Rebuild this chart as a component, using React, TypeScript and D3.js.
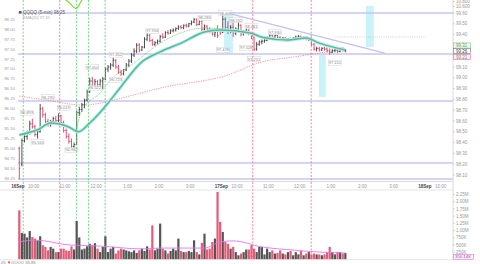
import React from 'react';
import * as d3 from 'd3';

// ---------- DATA ----------
// 5-minute bars: 16Sep 9:30-16:00 (78 bars), then 17Sep from 9:30 (48 bars)
const dayBarCounts = [78, 48];
const opens = [
  95.00, 94.60, 95.20, 95.30, 95.40, 95.62, 95.55, 95.35, 95.42, 96.00,
  95.85, 95.68, 95.60, 95.68, 95.75, 95.70, 95.82, 95.65, 95.45, 95.30,
  95.18, 95.05, 95.10, 95.90, 95.98, 96.10, 96.22, 96.42, 96.70, 96.58,
  96.68, 96.60, 96.70, 96.75, 97.00, 97.05, 97.10, 97.22, 97.05, 96.92,
  96.88, 96.98, 97.10, 97.20, 97.35, 97.45, 97.60, 97.48, 97.55, 97.75,
  97.85, 97.72, 97.62, 97.66, 97.70, 97.82, 97.80, 97.92, 97.90, 97.96,
  97.98, 98.02, 98.06, 98.04, 98.10, 98.08, 98.14, 98.18, 98.25, 98.12,
  98.20, 98.00, 98.08, 98.00, 97.94, 97.88, 98.00, 97.95,
  97.92, 98.25, 98.05, 97.95, 98.05, 97.90, 98.00, 98.10, 97.88, 97.95,
  97.98, 97.90, 97.78, 97.50, 97.62, 97.68, 97.70, 97.72, 97.80, 97.85,
  97.78, 97.84, 97.80, 97.75, 97.78, 97.72, 97.76, 97.74, 97.78, 97.80,
  97.82, 97.76, 97.80, 97.74, 97.78, 97.62, 97.50, 97.52, 97.48, 97.52,
  97.50, 97.46, 97.42, 97.46, 97.48, 97.44, 97.50, 97.46,
];
const highs = [
  95.05, 95.25, 95.38, 95.45, 95.70, 95.75, 95.60, 95.45, 96.12, 96.05,
  95.90, 95.75, 95.72, 95.80, 95.82, 95.88, 95.85, 95.70, 95.50, 95.38,
  95.25, 95.15, 95.95, 96.05, 96.15, 96.25, 96.48, 96.78, 96.80, 96.75,
  96.72, 96.75, 96.80, 97.05, 97.10, 97.15, 97.28, 97.25, 97.10, 96.98,
  97.00, 97.15, 97.25, 97.40, 97.52, 97.65, 97.65, 97.58, 97.80, 97.92,
  97.88, 97.76, 97.70, 97.74, 97.86, 97.90, 97.95, 97.98, 98.00, 98.02,
  98.05, 98.10, 98.10, 98.12, 98.14, 98.16, 98.22, 98.28, 98.27, 98.24,
  98.30, 98.12, 98.10, 98.05, 97.98, 97.96, 98.10, 98.02,
  98.40, 98.30, 98.20, 98.10, 98.25, 98.05, 98.18, 98.12, 97.98, 98.02,
  98.00, 97.92, 97.82, 97.68, 97.72, 97.74, 97.75, 97.82, 97.88, 97.86,
  97.86, 97.86, 97.82, 97.80, 97.80, 97.78, 97.79, 97.80, 97.84, 97.86,
  97.84, 97.82, 97.82, 97.80, 97.79, 97.65, 97.56, 97.56, 97.55, 97.56,
  97.54, 97.52, 97.50, 97.52, 97.50, 97.54, 97.55, 97.50,
];
const lows = [
  94.22, 94.55, 95.15, 95.22, 95.35, 95.50, 95.30, 95.25, 95.40, 95.78,
  95.62, 95.55, 95.55, 95.62, 95.65, 95.66, 95.60, 95.40, 95.25, 95.12,
  95.00, 94.92, 95.08, 95.82, 95.92, 96.02, 96.18, 96.40, 96.50, 96.52,
  96.55, 96.55, 96.50, 96.72, 96.92, 96.98, 97.05, 97.00, 96.88, 96.82,
  96.84, 96.95, 97.05, 97.15, 97.30, 97.40, 97.42, 97.45, 97.52, 97.70,
  97.68, 97.58, 97.58, 97.62, 97.66, 97.76, 97.78, 97.86, 97.88, 97.92,
  97.94, 97.98, 98.00, 98.00, 98.04, 98.05, 98.10, 98.15, 98.08, 98.10,
  97.95, 97.96, 97.96, 97.90, 97.84, 97.80, 97.78, 97.86,
  97.90, 97.98, 97.88, 97.90, 97.80, 97.85, 97.95, 97.82, 97.84, 97.90,
  97.85, 97.75, 97.45, 97.46, 97.58, 97.62, 97.66, 97.70, 97.76, 97.76,
  97.74, 97.76, 97.72, 97.70, 97.68, 97.68, 97.70, 97.72, 97.74, 97.76,
  97.74, 97.74, 97.72, 97.70, 97.58, 97.46, 97.44, 97.44, 97.45, 97.46,
  97.42, 97.36, 97.40, 97.42, 97.40, 97.42, 97.44, 97.42,
];
const closes = [
  94.50, 95.20, 95.30, 95.40, 95.62, 95.55, 95.35, 95.42, 96.00, 95.85,
  95.68, 95.60, 95.68, 95.75, 95.70, 95.82, 95.65, 95.45, 95.30, 95.18,
  95.05, 95.10, 95.90, 95.98, 96.10, 96.22, 96.42, 96.70, 96.58, 96.68,
  96.60, 96.70, 96.75, 97.00, 97.05, 97.10, 97.22, 97.05, 96.92, 96.88,
  96.98, 97.10, 97.20, 97.35, 97.45, 97.60, 97.48, 97.55, 97.75, 97.85,
  97.72, 97.62, 97.66, 97.70, 97.82, 97.80, 97.92, 97.90, 97.96, 97.98,
  98.02, 98.06, 98.04, 98.10, 98.08, 98.14, 98.18, 98.25, 98.12, 98.20,
  98.00, 98.08, 98.00, 97.94, 97.88, 97.92, 97.84, 97.90,
  98.25, 98.05, 97.95, 98.05, 97.90, 98.00, 98.10, 97.88, 97.95, 97.98,
  97.90, 97.78, 97.50, 97.62, 97.68, 97.70, 97.72, 97.80, 97.85, 97.78,
  97.84, 97.80, 97.75, 97.78, 97.72, 97.76, 97.74, 97.78, 97.80, 97.82,
  97.76, 97.80, 97.74, 97.78, 97.62, 97.50, 97.52, 97.48, 97.52, 97.50,
  97.46, 97.42, 97.46, 97.48, 97.44, 97.50, 97.46, 97.47,
];
// volume in millions
const volumes = [
  1.70, 0.91, 0.89, 0.76, 0.98, 0.77, 0.72, 0.66, 0.80, 0.49,
  0.43, 0.31, 0.43, 0.37, 0.25, 0.25, 0.37, 0.37, 0.31, 0.29,
  0.45, 0.34, 1.33, 0.76, 0.34, 0.37, 0.45, 0.54, 0.49, 0.56,
  0.37, 0.25, 0.43, 0.80, 0.25, 0.37, 0.43, 0.20, 0.31, 0.37,
  0.34, 0.31, 0.28, 0.25, 0.31, 0.22, 0.31, 0.37, 0.29, 0.45,
  0.34, 1.18, 0.31, 0.37, 1.24, 0.37, 0.31, 0.20, 0.29, 0.37,
  0.31, 0.72, 0.29, 0.25, 0.25, 0.29, 0.25, 0.66, 0.25, 0.17,
  0.57, 0.89, 0.34, 0.37, 0.60, 0.72, 2.34, 1.30,
  0.95, 0.60, 0.54, 0.37, 0.43, 0.25, 0.14, 0.20, 0.25, 0.34,
  0.34, 0.49, 0.37, 0.25, 0.43, 0.43, 0.17, 0.37, 0.25, 0.31,
  0.20, 0.22, 0.31, 0.20, 0.17, 0.25, 0.29, 0.14, 0.25, 0.17,
  0.29, 0.14, 0.20, 0.25, 0.17, 0.20, 0.17, 0.17, 0.14, 0.17,
  0.25, 0.43, 0.25, 0.17, 0.25, 0.25, 0.20, 0.22,
];

// moving-average knots (bar index, value)
const maTealBars = [0, 7, 12, 19, 22.6, 27, 34, 38, 47, 54, 62, 71, 77, 89, 93, 103, 110, 115, 125];
const maTealVals = [95.34, 95.47, 95.64, 95.54, 95.42, 95.64, 96.14, 96.47, 97.18, 97.43, 97.65, 97.93, 97.98, 97.90, 97.80, 97.73, 97.78, 97.65, 97.48];
const maFastBars = [22, 24, 31, 35, 44, 54, 71, 78];
const maFastVals = [95.50, 95.97, 96.40, 96.72, 97.15, 97.65, 98.03, 98.00];
const maLongBars = [0, 10, 25, 31, 44, 54, 80, 93, 105, 115, 125];
const maLongVals = [96.32, 96.22, 96.09, 96.14, 96.35, 96.52, 96.85, 97.18, 97.30, 97.40, 97.50];
const oscBars = [16.5, 19, 21.8, 23.5, 24.5];
const oscVals = [98.80, 98.68, 98.52, 98.68, 98.80];
const volMaBars = [0, 6, 19, 31, 47, 54, 71, 77, 82, 93, 105, 115, 125];
const volMaVals = [0.60, 0.67, 0.50, 0.46, 0.36, 0.39, 0.39, 0.60, 0.64, 0.43, 0.32, 0.25, 0.22];

// price markers (bar index, price)
const markerBars = [3, 7, 11, 17, 20, 28, 29, 37, 37, 51, 71, 79, 83, 89, 78, 87, 98, 90, 121];
const markerPrices = [95.893, 95.163, 96.295, 96.019, 94.962, 97.050, 96.522, 97.352, 96.723, 97.956,
  98.283, 98.408, 98.232, 98.081, 97.478, 97.528, 97.930, 97.251, 97.151];

// annotations
const levelPrices = [98.408, 97.377, 96.195, 94.635, 94.233];
const eventDays = [0, 0, 0, 0, 0, 1, 1];
const eventTimes = ['9:40', '10:50', '11:22', '11:45', '12:17', '10:30', '12:22'];
const eventKinds = ['buy', 'sell', 'buy', 'buy', 'buy', 'sell', 'sell'];
const zoneDays = [1, 1, 1];
const zoneStart = ['9:35', '12:37', '14:07'];
const zoneEnd = ['9:52', '12:50', '14:22'];
const zoneHi = [98.408, 97.352, 98.585];
const zoneLo = [97.402, 96.295, 97.553];
const trendFrom = { day: 1, time: '9:42', price: 98.408 };
const trendTo = { day: 1, time: '14:43', price: 97.402 };
const dottedFrom = { day: 1, time: '13:08' };
const dottedTo = { day: 2, time: '9:32' };
const dottedPrice = 97.805;

// axes
const priceTicks = [94.25, 94.5, 94.75, 95.0, 95.25, 95.5, 95.75, 96.0, 96.25, 96.5, 96.75, 97.0, 97.25, 97.5, 97.75, 98.0, 98.25];
const rightTicks = [98.1, 98.2, 98.3, 98.4, 98.5, 98.6, 98.7, 98.8, 98.9, 99.0, 99.1, 99.2, 99.3, 99.4, 99.5, 99.6];
const volTicks = [0.25, 0.5, 0.75, 1.0, 1.25, 1.5, 1.75, 2.0, 2.25];
const volTickLabels = ['250K', '500K', '750K', '1.00M', '1.25M', '1.50M', '1.75M', '2.00M', '2.25M'];
const dayLabels = ['16Sep', '17Sep', '18Sep'];
const hourTimes = ['10:00', '11:00', '12:00', '13:00', '14:00', '15:00'];
const hourLabels = ['10:00', '11:00', '12:00', '1:00', '2:00', '3:00'];
const rightBoxValues = ['99.31', '99.26', '99.21'];
const topRightLabels = ['10.800', '10.600'];

const FONT = 'Liberation Sans, Arial, sans-serif';

function minutes(s: string) {
  const [h, m] = s.split(':').map(Number);
  return h * 60 + m - 570;
}
function tAt(day: number, s: string) {
  return day * 390 + minutes(s);
}

export default function App() {
  const x = d3.scaleLinear().domain([0, 1170]).range([18, 18 + 3 * 203.45]);
  const y = d3.scaleLinear().domain([94.25, 98.25]).range([178.3, 19.3]);
  const yR = d3.scaleLinear().domain([98.1, 99.6]).range([175, 13]);
  const yV = d3.scaleLinear().domain([0, 2.25]).range([259.3, 194.5]);

  // bar start times in trading minutes
  const barT: number[] = [];
  dayBarCounts.forEach((n, d) => {
    for (let k = 0; k < n; k++) barT.push(d * 390 + k * 5);
  });
  const bx = (i: number) => x(barT[Math.floor(i)] + 2.5 + (i - Math.floor(i)) * 5);

  const lineP = d3.line<[number, number]>().x((d) => bx(d[0])).y((d) => y(d[1])).curve(d3.curveMonotoneX);
  const lineV = d3.line<[number, number]>().x((d) => bx(d[0])).y((d) => yV(d[1])).curve(d3.curveMonotoneX);
  const zip = (a: number[], b: number[]) => a.map((v, i) => [v, b[i]] as [number, number]);

  const plotL = 18, plotR = 453;
  const up = '#333333', down = '#e2305a';

  return (
    <svg width={480} height={264} style={{ position: 'fixed', left: 0, top: 0, background: '#fff' }} fontFamily={FONT}>
      <defs>
        <clipPath id="pp"><rect x={plotL} y={0} width={plotR - plotL} height={181} /></clipPath>
        <clipPath id="vp"><rect x={plotL} y={190} width={plotR - plotL} height={70} /></clipPath>
      </defs>
      <rect x={0} y={0} width={480} height={264} fill="#fff" />

      {/* price pane */}
      <g clipPath="url(#pp)">
        {zoneStart.map((s, i) => (
          <rect key={'z' + i} x={x(tAt(zoneDays[i], s))} width={x(tAt(zoneDays[i], zoneEnd[i])) - x(tAt(zoneDays[i], s))}
            y={y(zoneHi[i])} height={y(zoneLo[i]) - y(zoneHi[i])} fill="#c9f3f8" />
        ))}
        {levelPrices.map((p, i) => (
          <line key={'l' + i} x1={plotL} x2={plotR} y1={y(p)} y2={y(p)} stroke="#c6c6ef" strokeWidth={1.5} />
        ))}
        <line x1={x(tAt(trendFrom.day, trendFrom.time))} y1={y(trendFrom.price)} x2={x(tAt(trendTo.day, trendTo.time))} y2={y(trendTo.price)}
          stroke="#c2c2f0" strokeWidth={1.3} />
        <line x1={x(tAt(dottedFrom.day, dottedFrom.time))} x2={x(tAt(dottedTo.day, dottedTo.time))} y1={y(dottedPrice)} y2={y(dottedPrice)}
          stroke="#bbb" strokeWidth={0.7} strokeDasharray="1,1.2" />

        <path d={lineP(zip(maLongBars, maLongVals)) || ''} fill="none" stroke="#ec7a8a" strokeWidth={0.8} strokeDasharray="1.2,1.2" />

        {closes.map((c, i) => {
          const col = c >= opens[i] ? up : down;
          const cx = bx(i);
          return (
            <g key={'c' + i} stroke={col} strokeWidth={0.85}>
              <line x1={cx} x2={cx} y1={y(highs[i])} y2={y(lows[i])} />
              <line x1={cx - 1} x2={cx} y1={y(opens[i])} y2={y(opens[i])} />
              <line x1={cx} x2={cx + 1} y1={y(c)} y2={y(c)} />
            </g>
          );
        })}

        <path d={lineP(zip(maTealBars, maTealVals)) || ''} fill="none" stroke="#bdeed6" strokeWidth={3.4} />
        <path d={lineP(zip(maTealBars, maTealVals)) || ''} fill="none" stroke="#52b8b0" strokeWidth={1.5} />
        <path d={lineP(zip(maFastBars, maFastVals)) || ''} fill="none" stroke="#4cc35c" strokeWidth={0.7} strokeDasharray="1,0.8" />
        <path d={lineP(zip(oscBars, oscVals)) || ''} fill="none" stroke="#8cd83c" strokeWidth={1.3} />

        {markerBars.map((b, i) => {
          const cx = bx(b), cy = y(markerPrices[i]);
          return (
            <g key={'m' + i}>
              <rect x={cx - 6.5} y={cy - 2.6} width={13} height={5.2} fill="#fff" fillOpacity={0.9} stroke="#c8c8c8" strokeWidth={0.4} />
              <text x={cx} y={cy + 1.5} fontSize={4} fill="#888" textAnchor="middle">{markerPrices[i].toFixed(3)}</text>
            </g>
          );
        })}
      </g>

      {/* event lines across both panes */}
      {eventTimes.map((s, i) => {
        const ex = x(tAt(eventDays[i], s));
        return (
          <line key={'e' + i} x1={ex} x2={ex} y1={0} y2={259.5} stroke={eventKinds[i] === 'buy' ? '#4fd06a' : '#f06a7c'}
            strokeWidth={0.8} strokeDasharray="2,1.5" />
        );
      })}

      {/* legend */}
      <rect x={19} y={11} width={2.5} height={2.5} fill="#556" />
      <text x={23} y={14.2} fontSize={4.5} fill="#556">QQQQ (5-min) 98.25</text>
      <text x={23} y={18.9} fontSize={4} fill="#aaa">EMA(20) 97.31</text>

      {/* left axis */}
      {priceTicks.map((p) => (
        <text key={'pt' + p} x={15} y={y(p) + 1.5} fontSize={4.3} fill="#999" textAnchor="end">{p.toFixed(2)}</text>
      ))}

      {/* right axis */}
      <line x1={plotR} x2={plotR} y1={0} y2={260} stroke="#d0d0d0" strokeWidth={0.8} />
      {rightTicks.map((p) => (
        <g key={'rt' + p}>
          <line x1={plotR} x2={plotR + 2} y1={yR(p)} y2={yR(p)} stroke="#bbb" strokeWidth={0.5} />
          <text x={plotR + 3} y={yR(p) + 1.6} fontSize={4.5} fill="#999">{p.toFixed(2)}</text>
        </g>
      ))}
      {topRightLabels.map((s, i) => (
        <g key={'tr' + i}>
          <line x1={plotR} x2={plotR + 2} y1={1.5 + i * 5} y2={1.5 + i * 5} stroke="#bbb" strokeWidth={0.5} />
          <text x={plotR + 3} y={3 + i * 5} fontSize={4.5} fill="#999">{s}</text>
        </g>
      ))}
      {rightBoxValues.map((s, i) => {
        const stroke = ['#7ccf6e', '#707070', '#e0708e'][i];
        const fill = ['#eefbe9', '#ffffff', '#fff0f4'][i];
        const cy = [45.5, 51, 57][i];
        return (
          <g key={'rb' + i}>
            <rect x={plotR + 0.5} y={cy - 2.6} width={17} height={5.2} fill={fill} stroke={stroke} strokeWidth={0.6} />
            <text x={plotR + 3} y={cy + 1.6} fontSize={4.5} fill={i === 1 ? '#444' : '#888'}>{s}</text>
          </g>
        );
      })}

      {/* time axis band */}
      <line x1={0} x2={plotR} y1={181.5} y2={181.5} stroke="#d0d0d0" strokeWidth={0.7} />
      <line x1={0} x2={plotR} y1={190} y2={190} stroke="#d8d8d8" strokeWidth={0.7} />
      {dayLabels.map((s, d) => (
        <text key={'d' + d} x={x(d * 390)} y={187.5} fontSize={4.5} fontWeight="bold" fill="#444" textAnchor="middle">{s}</text>
      ))}
      {dayLabels.map((_, d) =>
        hourTimes.map((h, k) => {
          const t = tAt(d, h);
          if (x(t) > plotR - 4) return null;
          return (
            <text key={'h' + d + k} x={x(t)} y={187.5} fontSize={4.5} fill="#999" textAnchor="middle">{hourLabels[k]}</text>
          );
        })
      )}

      {/* volume pane */}
      <g clipPath="url(#vp)">
        {volumes.map((v, i) => (
          <rect key={'v' + i} x={bx(i) - 1.1} width={2.2} y={yV(v)} height={yV(0) - yV(v)}
            fill={closes[i] >= opens[i] ? '#555555' : '#e65a78'} />
        ))}
        <path d={lineV(zip(volMaBars, volMaVals)) || ''} fill="none" stroke="#e474ee" strokeWidth={0.9} />
      </g>
      <line x1={0} x2={plotR} y1={259.7} y2={259.7} stroke="#d8d8d8" strokeWidth={0.6} />
      {volTicks.map((v, i) => (
        <g key={'vt' + i}>
          <line x1={plotR} x2={plotR + 2} y1={yV(v)} y2={yV(v)} stroke="#bbb" strokeWidth={0.5} />
          <text x={plotR + 3} y={yV(v) + 1.6} fontSize={4.5} fill="#999">{volTickLabels[i]}</text>
        </g>
      ))}
      <rect x={plotR + 0.5} y={254.3} width={20} height={5.2} fill="#fdf0fd" stroke="#e070e0" strokeWidth={0.6} />
      <text x={plotR + 2} y={258.3} fontSize={4.3} fill="#a050a0">350.14K</text>

      {/* bottom legend */}
      <text x={1} y={263.5} fontSize={4.2} fill="#888">25</text>
      <text x={7} y={263.5} fontSize={4.2} fill="#e2305a">▼</text>
      <text x={11} y={263.5} fontSize={4.2} fill="#888">QQQQ 35.85</text>
    </svg>
  );
}
